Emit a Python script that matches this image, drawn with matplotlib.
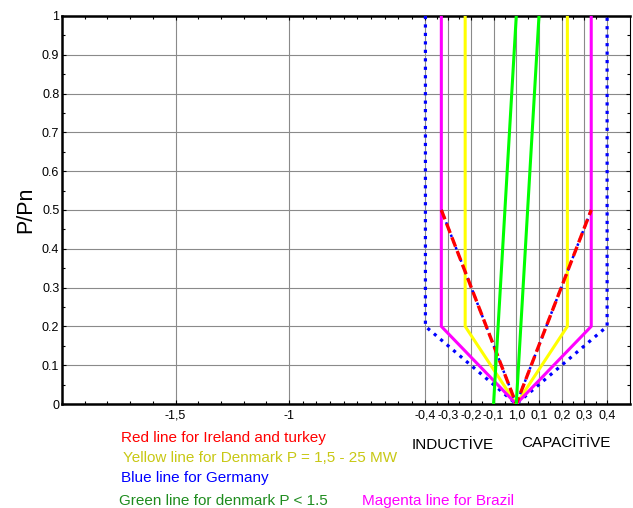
import numpy as np
import matplotlib
matplotlib.use("Agg")
import matplotlib.pyplot as plt

plt.rcParams['font.family'] = ['Liberation Sans', 'DejaVu Sans']

# reactive power (Q/Pn) vs active power (P/Pn) limit curves
germany_q = [-0.4, -0.4, 0.0, 0.4, 0.4]
germany_p = [1.0, 0.2, 0.0, 0.2, 1.0]

denmark_q = [-0.225, -0.225, 0.0, 0.225, 0.225]
denmark_p = [1.0, 0.2, 0.0, 0.2, 1.0]

brazil_q = [-0.33, -0.33, 0.0, 0.33, 0.33]
brazil_p = [1.0, 0.2, 0.0, 0.2, 1.0]

ireland_q = [-0.33, 0.0, 0.33]
ireland_p = [0.5, 0.0, 0.5]

dk_small_q1 = [-0.1, 0.0]
dk_small_p1 = [0.0, 1.0]
dk_small_q2 = [0.0, 0.1]
dk_small_p2 = [0.0, 1.0]

xtick_pos = [-1.5, -1.0, -0.4, -0.3, -0.2, -0.1, 0.0, 0.1, 0.2, 0.3, 0.4]
xtick_lbl = ['-1,5', '-1', '-0,4', '-0,3', '-0,2', '-0,1', '1,0', '0,1', '0,2', '0,3', '0,4']
ytick_pos = [0, 0.1, 0.2, 0.3, 0.4, 0.5, 0.6, 0.7, 0.8, 0.9, 1.0]
ytick_lbl = ['0', '0.1', '0.2', '0.3', '0.4', '0.5', '0.6', '0.7', '0.8', '0.9', '1']

fig = plt.figure(figsize=(6.33, 5.08), dpi=100)
ax = fig.add_axes([0.098, 0.2047, 0.897, 0.764])

ax.plot(germany_q, germany_p, color='#0000ff', linestyle=':', linewidth=2.3, zorder=3)
ax.plot(denmark_q, denmark_p, color='#ffff00', linewidth=2.2, zorder=4)
ax.plot(brazil_q, brazil_p, color='#ff00ff', linewidth=2.2, zorder=5)
ax.plot(ireland_q, ireland_p, color='#0000ff', linestyle=':', linewidth=1.8, zorder=6)
ax.plot(ireland_q, ireland_p, color='#ff0000', linestyle=(0, (3, 1.4)), linewidth=2.4, zorder=7)
ax.plot(dk_small_q1, dk_small_p1, color='#00ff00', linewidth=2.2, zorder=8)
ax.plot(dk_small_q2, dk_small_p2, color='#00ff00', linewidth=2.2, zorder=8)

ax.set_xlim(-2.0, 0.5)
ax.set_ylim(0, 1)

ax.set_xticks(xtick_pos)
ax.set_xticklabels(xtick_lbl, fontsize=9)
minor_x = np.concatenate([np.arange(-2.0, -1.0, 0.1), np.linspace(-1.0, -0.4, 11),
                          np.arange(-0.4, 0.45, 0.05)])
ax.set_xticks(minor_x, minor=True)
ax.set_yticks(ytick_pos)
ax.set_yticklabels(ytick_lbl, fontsize=9)
ax.set_yticks(np.arange(0, 1.0, 0.05), minor=True)

ax.tick_params(which='both', direction='in', top=True, right=True, pad=2)
ax.tick_params(which='major', length=3, width=0.8)
ax.tick_params(which='minor', length=2, width=0.8)
ax.tick_params(axis='x', which='major', pad=4)

ax.grid(True, which='major', color='#8a8a8a', linewidth=0.8)
ax.set_axisbelow(True)

for side in ['left', 'bottom', 'top']:
    ax.spines[side].set_linewidth(1.8)
ax.spines['right'].set_linewidth(0.8)

ax.set_ylabel('P/Pn', fontsize=15.5, labelpad=4)

fig.text(121 / 633, 1 - 441.7 / 508, 'Red line for Ireland and turkey', color='#ff0000', fontsize=11)
fig.text(123 / 633, 1 - 462.3 / 508, 'Yellow line for Denmark P = 1,5 - 25 MW', color='#c8c814', fontsize=11)
fig.text(121 / 633, 1 - 482.3 / 508, 'Blue line for Germany', color='#0000ff', fontsize=11)
fig.text(119 / 633, 1 - 505 / 508, 'Green line for denmark P < 1.5', color='#1e8c1e', fontsize=11)
fig.text(362 / 633, 1 - 505 / 508, 'Magenta line for Brazil', color='#ff00ff', fontsize=11)
fig.text(412 / 633, 1 - 449.3 / 508, 'INDUCTİVE', color='black', fontsize=11)
fig.text(521 / 633, 1 - 447.3 / 508, 'CAPACİTİVE', color='black', fontsize=11)

fig.savefig('out.png', dpi=100)
